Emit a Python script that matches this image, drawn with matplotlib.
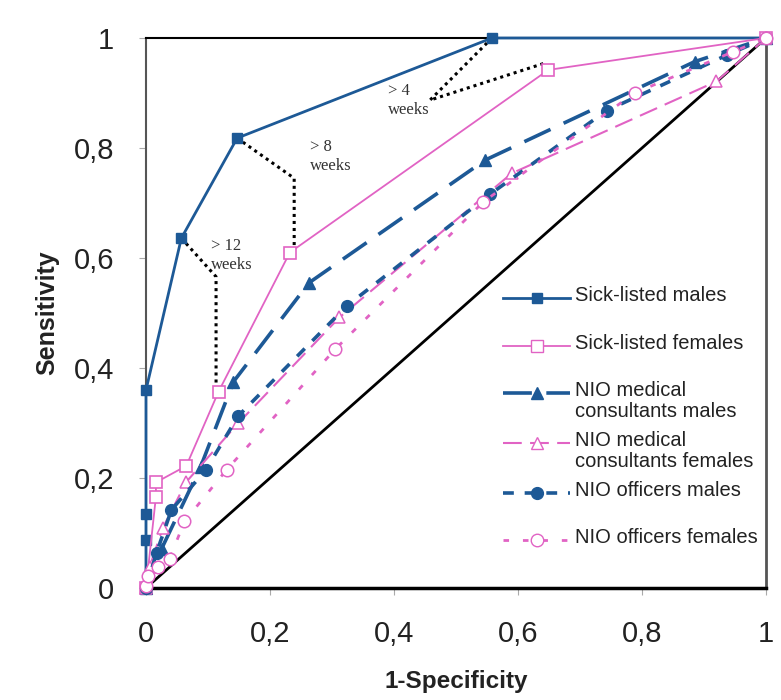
import matplotlib.pyplot as plt

plt.rcParams['font.family'] = ['Liberation Sans', 'DejaVu Sans']

BLUE = '#1d5996'
PINK = '#e163c4'

# ROC points: (1-specificity, sensitivity)
sick_m_x = [0, 0, 0, 0, 0.057, 0.147, 0.558, 1]
sick_m_y = [0, 0.088, 0.135, 0.36, 0.636, 0.818, 1, 1]

sick_f_x = [0, 0.016, 0.016, 0.065, 0.117, 0.232, 0.649, 1]
sick_f_y = [0, 0.166, 0.192, 0.222, 0.357, 0.61, 0.942, 1]

med_m_x = [0, 0.025, 0.088, 0.141, 0.263, 0.547, 0.885, 1]
med_m_y = [0, 0.071, 0.22, 0.375, 0.555, 0.778, 0.957, 1]

med_f_x = [0, 0.006, 0.027, 0.065, 0.149, 0.312, 0.59, 0.92, 1]
med_f_y = [0, 0.039, 0.109, 0.193, 0.30, 0.492, 0.754, 0.921, 1]

off_m_x = [0, 0.017, 0.041, 0.096, 0.149, 0.324, 0.555, 0.743, 0.937, 1]
off_m_y = [0, 0.064, 0.142, 0.214, 0.313, 0.513, 0.716, 0.868, 0.969, 1]

off_f_x = [0, 0.003, 0.019, 0.038, 0.062, 0.13, 0.305, 0.544, 0.788, 0.947, 1]
off_f_y = [0.004, 0.022, 0.039, 0.053, 0.121, 0.215, 0.434, 0.702, 0.90, 0.975, 1]

labels = ['Sick-listed males', 'Sick-listed females',
          'NIO medical\nconsultants males', 'NIO medical\nconsultants females',
          'NIO officers males', 'NIO officers females']

# cut-off annotations: dotted path linking the two sick-listed curves
cut_labels = ['> 12\nweeks', '> 8\nweeks', '> 4\nweeks']
cut_12_x = [0.057, 0.113, 0.113, 0.117]
cut_12_y = [0.636, 0.566, 0.366, 0.357]
cut_8_x = [0.147, 0.239, 0.239, 0.232]
cut_8_y = [0.818, 0.745, 0.602, 0.61]
cut_4_x = [0.558, 0.458, 0.645]
cut_4_y = [1.0, 0.887, 0.955]
cut_text_x = [0.105, 0.265, 0.39]
cut_text_y = [0.605, 0.785, 0.887]

ticks = [0, 0.2, 0.4, 0.6, 0.8, 1]
tick_labels = ['0', '0,2', '0,4', '0,6', '0,8', '1']

fig = plt.figure(figsize=(7.81, 7.0), dpi=100)
ax = fig.add_axes([146 / 781, 112 / 700, 620 / 781, 550 / 700])

styles = [
    dict(color=BLUE, lw=2.0, ls='-', marker='s', ms=7, mfc=BLUE, mec=BLUE),
    dict(color=PINK, lw=1.3, ls='-', marker='s', ms=8.5, mfc='white', mec=PINK, mew=1.2),
    dict(color=BLUE, lw=2.6, ls=(0, (8, 4)), marker='^', ms=9, mfc=BLUE, mec=BLUE),
    dict(color=PINK, lw=1.5, ls=(0, (9, 4)), marker='^', ms=9, mfc='white', mec=PINK, mew=1.1),
    dict(color=BLUE, lw=2.6, ls=(0, (3, 3)), marker='o', ms=8.5, mfc=BLUE, mec=BLUE),
    dict(color=PINK, lw=2.0, ls=(0, (2, 5)), marker='o', ms=9, mfc='white', mec=PINK, mew=1.1),
]
data = [(sick_m_x, sick_m_y), (sick_f_x, sick_f_y), (med_m_x, med_m_y),
        (med_f_x, med_f_y), (off_m_x, off_m_y), (off_f_x, off_f_y)]

# chance diagonal
ax.plot([0, 1], [0, 1], color='black', lw=2, zorder=1)

for (xs, ys), st in zip(data, styles):
    ax.plot(xs, ys, zorder=3, clip_on=False, **st)

for px, py in [(cut_12_x, cut_12_y), (cut_8_x, cut_8_y), (cut_4_x, cut_4_y)]:
    ax.plot(px, py, color='black', lw=2.2, ls=(0, (1, 1.3)), zorder=2)
for t, tx, ty in zip(cut_labels, cut_text_x, cut_text_y):
    ax.text(tx, ty, t, family=['Liberation Serif', 'DejaVu Serif'], fontsize=12,
            color='#333333', ha='left', va='center', linespacing=1.25, zorder=4)

# legend, laid out by hand like the spreadsheet original
leg_rows = [0.527, 0.44, 0.355, 0.264, 0.173, 0.087]
for row, lab, st in zip(leg_rows, labels, styles):
    ax.plot([0.576, 0.684], [row, row], transform=ax.transAxes, color=st['color'],
            lw=st['lw'], ls=st['ls'], clip_on=False, zorder=5)
    ax.plot([0.63], [row], transform=ax.transAxes, ls='none', marker=st['marker'],
            ms=st['ms'], mfc=st['mfc'], mec=st['mec'], clip_on=False, zorder=6)
    ax.text(0.692, row + 0.022, lab, transform=ax.transAxes, fontsize=14.5,
            color='#222222', ha='left', va='top', linespacing=1.15)

ax.set_xlim(0, 1)
ax.set_ylim(0, 1)
ax.set_xticks(ticks)
ax.set_yticks(ticks)
ax.set_xticklabels(tick_labels)
ax.set_yticklabels(tick_labels)
ax.tick_params(direction='out', length=5, width=0.8, color='#aaaaaa',
               labelsize=21, labelcolor='#222222', pad=18)

ax.spines['left'].set_color('#555555')
ax.spines['left'].set_linewidth(1.5)
ax.spines['right'].set_color('#555555')
ax.spines['right'].set_linewidth(2)
ax.spines['top'].set_linewidth(1.5)
ax.spines['bottom'].set_linewidth(2.5)

ax.set_xlabel('1-Specificity', fontsize=17.5, fontweight='bold', color='#222222', labelpad=16)
ax.set_ylabel('Sensitivity', fontsize=18, fontweight='bold', color='#222222', labelpad=10)

fig.savefig('out.png', dpi=100)
